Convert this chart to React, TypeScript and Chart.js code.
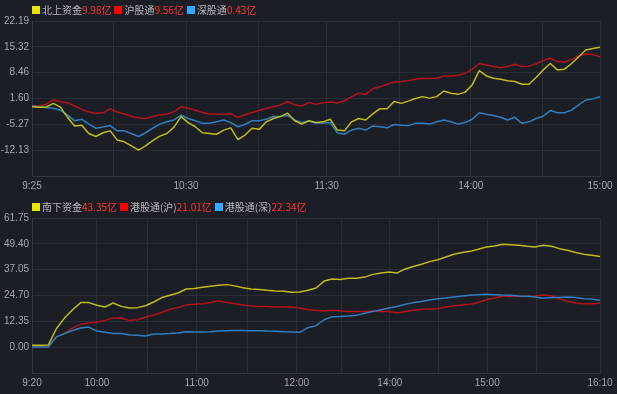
import React, { useEffect, useRef } from 'react';
import { Chart, registerables } from 'chart.js';

Chart.register(...registerables);

// ---------- Top panel: 北向资金 (81 samples, 9:25 → 15:00) ----------
const topNames = ['北上资金', '沪股通', '深股通'];
const topLegendValues = [9.98, 9.56, 0.43];
const topNorth = [
  -0.6, -0.7, -0.7, 0.3, -0.7, -3.4, -5.7, -5.5, -7.7, -8.5,
  -7.5, -7.0, -9.4, -9.9, -11.0, -12.1, -11.0, -9.6, -8.4, -7.7,
  -6.0, -3.2, -4.8, -5.9, -7.5, -7.7, -7.9, -6.8, -6.2, -9.3,
  -8.1, -6.3, -6.6, -4.6, -3.7, -3.2, -2.3, -4.3, -5.2, -4.3,
  -4.8, -4.6, -3.9, -6.8, -7.0, -4.6, -3.7, -4.1, -2.5, -1.1,
  -1.1, 0.8, 0.3, 0.9, 1.6, 2.1, 1.7, 2.1, 3.6, 3.0,
  2.7, 3.3, 5.2, 9.0, 7.6, 7.0, 6.7, 6.3, 6.1, 5.4,
  5.4, 7.2, 9.2, 10.9, 9.2, 9.4, 10.9, 12.7, 14.5, 14.9,
  15.2,
];
const topSH = [
  -0.4, -0.4, 0.1, 1.2, 0.75, 0.5, -0.4, -1.3, -2.0, -2.3,
  -2.2, -1.1, -2.0, -2.5, -3.1, -3.6, -3.7, -3.2, -2.8, -2.5,
  -1.9, -0.6, -1.0, -1.5, -2.1, -2.5, -2.5, -2.6, -2.5, -3.4,
  -2.7, -2.1, -1.6, -1.0, -0.6, -0.1, 0.8, -0.1, -0.4, 0.5,
  0.1, 0.5, 0.7, 0.4, 1.0, 2.1, 3.0, 2.7, 4.2, 4.7,
  5.4, 6.0, 6.1, 6.3, 6.7, 7.0, 6.9, 7.0, 7.6, 7.6,
  7.8, 8.3, 9.4, 10.9, 10.5, 10.1, 9.8, 10.1, 10.7, 10.1,
  10.2, 10.8, 11.7, 12.3, 11.4, 11.3, 12.0, 12.9, 13.4, 13.3,
  12.7,
];
const topSZ = [
  -0.4, -0.6, -0.8, -1.0, -1.5, -2.8, -4.3, -3.9, -5.2, -6.3,
  -6.0, -5.6, -7.0, -7.0, -7.7, -8.5, -7.5, -6.3, -5.2, -4.6,
  -4.1, -2.8, -3.7, -4.3, -5.0, -5.0, -4.6, -4.1, -4.8, -5.9,
  -5.3, -4.3, -4.3, -3.9, -3.2, -3.1, -2.9, -4.1, -4.8, -4.4,
  -5.0, -4.9, -4.8, -7.5, -7.9, -6.8, -6.3, -6.8, -5.7, -5.9,
  -6.2, -5.3, -5.5, -5.6, -5.0, -5.0, -5.2, -4.6, -4.1, -4.6,
  -5.2, -4.8, -3.9, -2.2, -2.6, -2.9, -3.4, -4.1, -3.4, -5.0,
  -4.6, -3.7, -3.1, -1.6, -2.2, -2.2, -1.5, -0.1, 1.2, 1.5,
  2.1,
];
const topYTicks = [22.19, 15.32, 8.46, 1.6, -5.27, -12.13, -18.99];
const topXTickPos = [0, 11.5, 21.7, 31.9, 41.5, 51.8, 61.8, 71.9, 80];
const topXTickLabels = ['9:25', '', '10:30', '', '11:30', '', '14:00', '', '15:00'];

// ---------- Bottom panel: 南向资金 (71 samples, 9:20 → 16:10) ----------
const bottomNames = ['南下资金', '港股通(沪)', '港股通(深)'];
const bottomLegendValues = [43.35, 21.01, 22.34];
const bottomSouth = [
  0.9, 0.9, 1.0, 8.8, 13.9, 17.9, 21.3, 21.3, 20.0, 19.2,
  21.1, 19.5, 18.7, 18.9, 19.8, 21.6, 23.7, 24.8, 25.9, 27.8,
  28.1, 28.6, 29.1, 29.6, 29.9, 29.3, 28.4, 27.8, 27.6, 27.2,
  26.9, 26.7, 26.2, 26.4, 27.2, 28.3, 31.6, 32.6, 32.4, 32.9,
  32.9, 33.5, 34.8, 35.5, 35.9, 35.5, 37.4, 38.6, 39.6, 40.9,
  41.8, 43.1, 44.4, 45.3, 45.8, 46.8, 47.9, 48.4, 49.2, 49.0,
  48.7, 48.2, 47.9, 48.7, 48.2, 47.1, 46.3, 45.3, 44.4, 43.9,
  43.3,
];
const bottomHKSH = [
  0.1, 0.1, 0.1, 4.9, 6.5, 9.2, 10.9, 11.6, 12.0, 12.8,
  14.0, 13.8, 12.8, 13.1, 14.4, 15.4, 16.6, 18.1, 18.9, 20.2,
  20.5, 20.8, 21.4, 22.1, 21.4, 20.8, 20.2, 19.7, 19.5, 19.4,
  19.2, 19.2, 19.2, 18.7, 17.9, 17.6, 17.3, 17.6, 17.3, 17.0,
  17.0, 17.1, 17.3, 17.1, 17.0, 16.3, 17.1, 17.6, 18.1, 18.3,
  18.4, 19.2, 19.8, 20.2, 20.5, 21.4, 22.7, 23.5, 24.3, 24.3,
  24.2, 24.3, 24.5, 24.9, 24.6, 23.0, 21.9, 21.1, 20.8, 20.8,
  21.0,
];
const bottomHKSZ = [
  0.1, 0.1, 0.1, 4.9, 6.5, 8.0, 9.2, 9.6, 7.7, 7.1,
  6.5, 6.5, 5.8, 5.7, 5.3, 6.3, 6.3, 6.5, 6.8, 7.4,
  7.3, 7.3, 7.4, 7.7, 7.9, 8.0, 8.0, 7.9, 7.9, 7.7,
  7.6, 7.4, 7.3, 7.1, 9.3, 10.3, 13.1, 14.6, 14.7, 14.9,
  15.2, 16.2, 17.0, 17.9, 18.7, 19.4, 20.5, 21.3, 21.8, 22.5,
  23.2, 23.5, 24.0, 24.5, 24.8, 25.1, 25.3, 25.1, 24.9, 24.8,
  24.5, 24.3, 24.0, 23.4, 23.7, 23.7, 24.0, 23.7, 23.2, 23.0,
  22.4,
];
const bottomYTicks = [61.75, 49.4, 37.05, 24.7, 12.35, 0.0, -12.35];
const bottomXTickPos = [0, 8, 14.2, 20.3, 26.5, 32.6, 38.2, 44.1, 50.1, 56.1, 62.2, 70];
const bottomXTickLabels = ['9:20', '10:00', '', '11:00', '', '12:00', '', '14:00', '', '15:00', '', '16:10'];

const lineColors = ['#bdbd17', '#b3121c', '#2f7fc0'];
const legendColors = ['#e6e600', '#ff0000', '#33aaff'];

const BG = '#1c1e25';
const GRID = '#2a2d35';
const TICK = '#a3a6ac';

function Panel(props: {
  names: string[];
  legendValues: number[];
  series: number[][];
  yTicks: number[];
  xPos: number[];
  xLabels: string[];
  top: number;
}) {
  const ref = useRef<HTMLCanvasElement | null>(null);
  useEffect(() => {
    if (!ref.current) return;
    const { series, yTicks, xPos, xLabels } = props;
    const n = series[0].length;
    const yMax = yTicks[0];
    const yMin = yTicks[yTicks.length - 1];
    // draw order: dataset 0 on top -> yellow first
    const order = [0, 2, 1];
    const chart = new Chart(ref.current, {
      type: 'line',
      data: {
        datasets: order.map((si) => ({
          label: props.names[si],
          data: series[si].map((v, i) => ({ x: i, y: v })),
          borderColor: lineColors[si],
          borderWidth: 1.5,
          pointRadius: 0,
          tension: 0,
          fill: false,
          borderJoinStyle: 'round' as const,
        })),
      },
      options: {
        animation: false,
        responsive: false,
        maintainAspectRatio: false,
        events: [],
        layout: { padding: { top: 21, right: 17, left: 0, bottom: 0 } },
        plugins: { legend: { display: false }, tooltip: { enabled: false } },
        scales: {
          x: {
            type: 'linear',
            min: 0,
            max: n - 1,
            grid: { color: GRID, drawTicks: false, lineWidth: 1 },
            border: { color: '#33363e' },
            afterBuildTicks: (s: any) => {
              s.ticks = xPos.map((v) => ({ value: v }));
            },
            afterFit: (s: any) => {
              s.height = 21;
            },
            ticks: {
              autoSkip: false,
              maxRotation: 0,
              padding: 4,
              color: TICK,
              font: { size: 10, family: '"Liberation Sans", Arial, sans-serif' },
              callback: (_v: any, idx: number) => xLabels[idx] ?? '',
            },
          },
          y: {
            type: 'linear',
            min: yMin,
            max: yMax,
            grid: { color: GRID, drawTicks: false, lineWidth: 1 },
            border: { color: '#33363e' },
            afterBuildTicks: (s: any) => {
              s.ticks = yTicks.map((v) => ({ value: v }));
            },
            afterFit: (s: any) => {
              s.width = 32;
            },
            ticks: {
              autoSkip: false,
              padding: 3,
              color: TICK,
              font: { size: 10, family: '"Liberation Sans", Arial, sans-serif' },
              callback: (v: any) => (Math.abs(Number(v) - yMin) < 1e-6 ? '' : Number(v).toFixed(2)),
            },
          },
        },
      },
    });
    return () => chart.destroy();
  }, []);

  return (
    <div style={{ position: 'absolute', left: 0, top: props.top, width: 617, height: 197 }}>
      <canvas ref={ref} width={617} height={197} style={{ display: 'block', width: 617, height: 197 }} />
      <div
        style={{
          position: 'absolute',
          left: 32,
          top: 4,
          height: 12,
          display: 'flex',
          alignItems: 'center',
          fontSize: 10,
          lineHeight: '12px',
          fontFamily: '"Noto Sans CJK SC", "Liberation Sans", sans-serif',
          whiteSpace: 'nowrap',
        }}
      >
        {props.names.map((name, i) => (
          <span key={name} style={{ display: 'inline-flex', alignItems: 'center', marginRight: 3 }}>
            <span style={{ display: 'inline-block', width: 8, height: 8, background: legendColors[i], marginRight: 2 }} />
            <span style={{ color: '#b8babe' }}>{name}</span>
            <span style={{ color: '#ff3333' }}>{props.legendValues[i].toFixed(2)}亿</span>
          </span>
        ))}
      </div>
    </div>
  );
}

export default function App() {
  return (
    <div style={{ position: 'fixed', left: 0, top: 0, width: 617, height: 394, background: BG, overflow: 'hidden' }}>
      <Panel
        names={topNames}
        legendValues={topLegendValues}
        series={[topNorth, topSH, topSZ]}
        yTicks={topYTicks}
        xPos={topXTickPos}
        xLabels={topXTickLabels}
        top={0}
      />
      <Panel
        names={bottomNames}
        legendValues={bottomLegendValues}
        series={[bottomSouth, bottomHKSH, bottomHKSZ]}
        yTicks={bottomYTicks}
        xPos={bottomXTickPos}
        xLabels={bottomXTickLabels}
        top={197}
      />
    </div>
  );
}
